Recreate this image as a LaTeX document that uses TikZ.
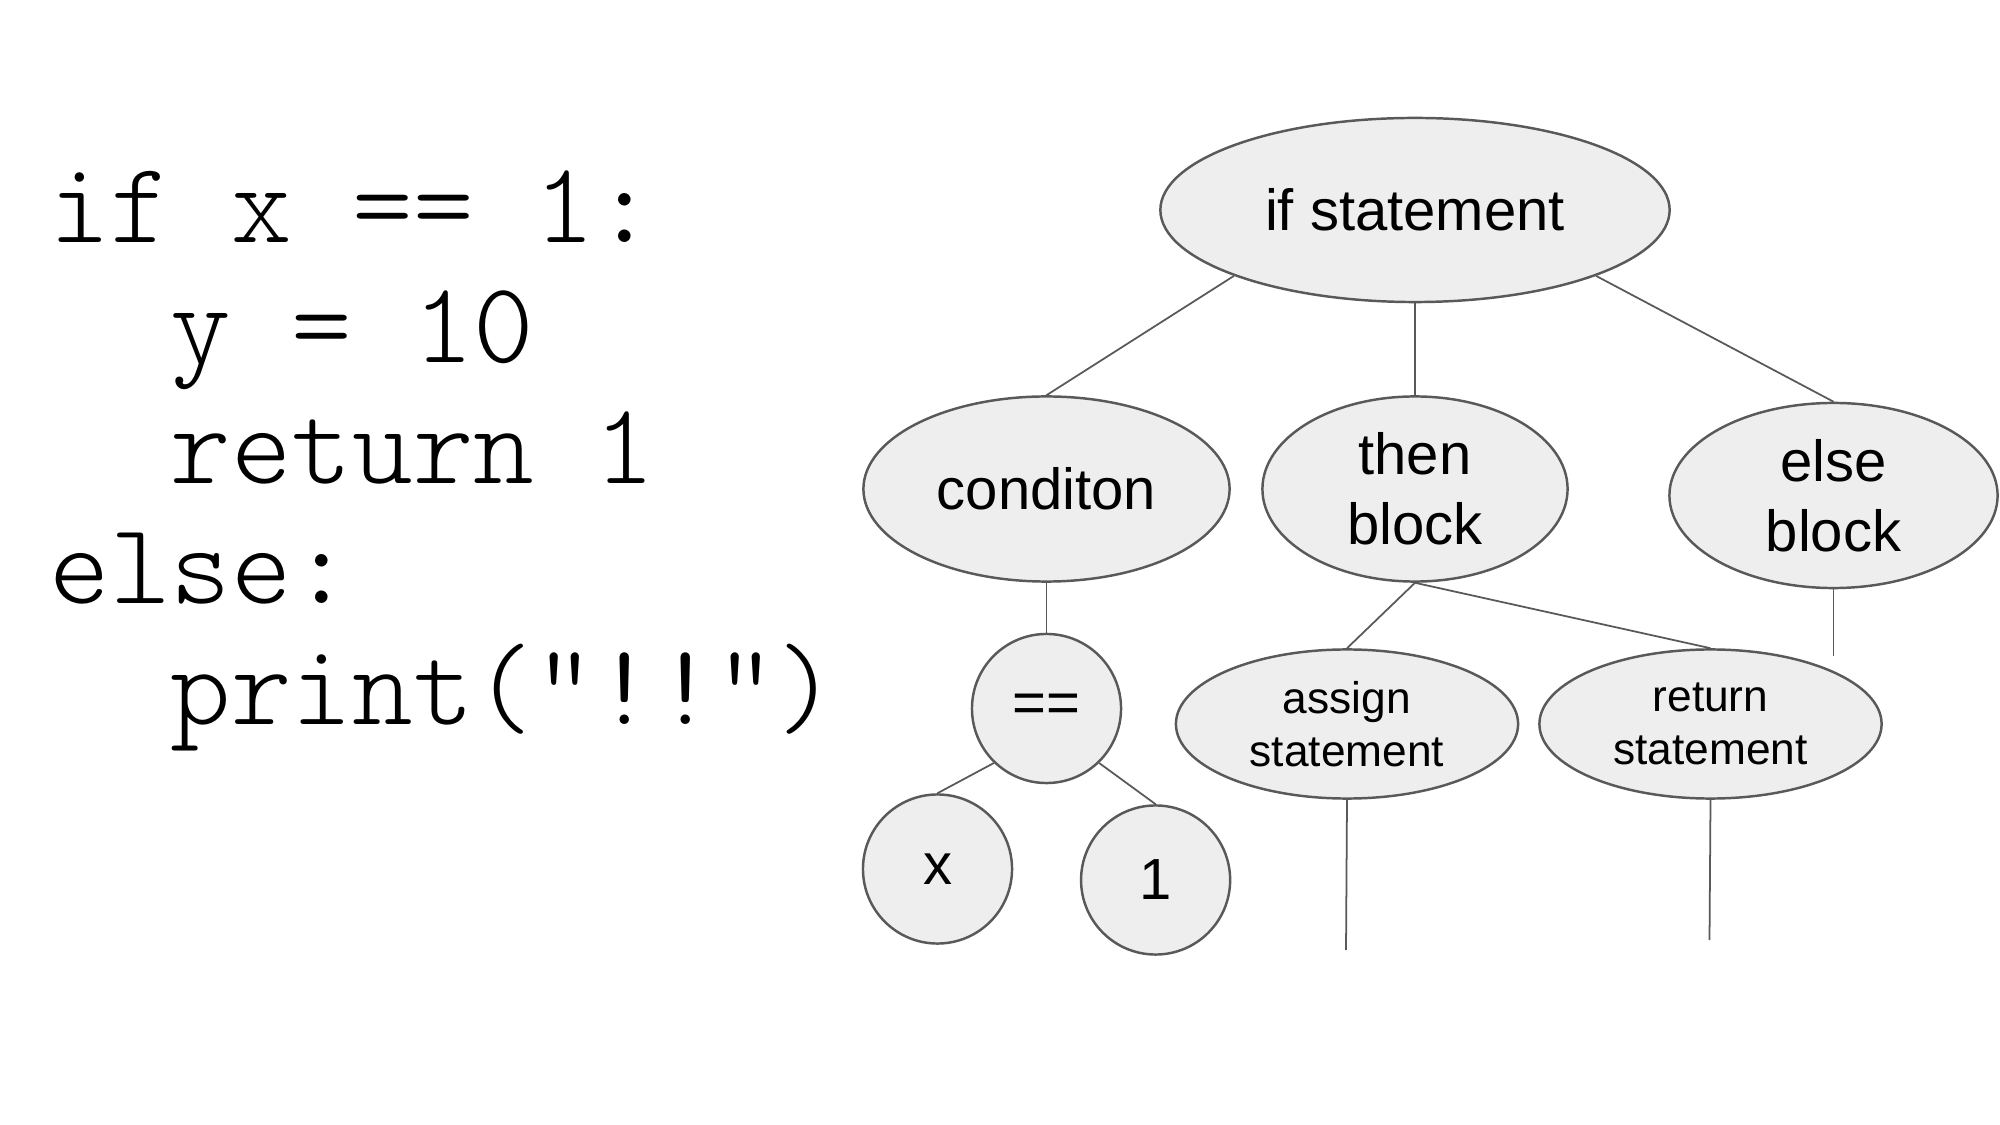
\documentclass[tikz,border=0pt]{standalone}
\usepackage{fontspec}
\setmainfont{Liberation Sans}
\newfontfamily\codefamily{lmmonolt10-regular.otf}
\usetikzlibrary{shapes.geometric}
\definecolor{nodefill}{HTML}{EEEEEE}
\definecolor{linegray}{HTML}{595959}
\newcommand{\ind}{\hspace*{1.05em}}
\begin{document}
\begin{tikzpicture}[x=0.01cm,y=-0.01cm,
  every node/.style={inner sep=0pt},
  treenode/.style={ellipse,draw=linegray,line width=0.7pt,fill=nodefill,align=center,font=\fontsize{16.5}{20}\selectfont},
  smallnode/.style={treenode,font=\fontsize{12.6}{15}\selectfont},
  leafnode/.style={circle,draw=linegray,line width=0.7pt,fill=nodefill,minimum size=1.49cm,font=\fontsize{16.5}{20}\selectfont},
  branch/.style={draw=linegray,line width=0.5pt}]
\useasboundingbox (0,0) rectangle (2000,1125);
\node[anchor=base west,align=left,font=\codefamily\fontsize{32.8}{34.3}\selectfont] (code) at (49,724.5)
  {if x == 1:\\ \ind y = 10\\ \ind return 1\\ else:\\ \ind print("!!")};
\node[treenode,minimum width=5.09cm,minimum height=1.84cm] (root) at (1415,210) {if statement};
\node[treenode,minimum width=3.66cm,minimum height=1.85cm] (cond) at (1046.5,489) {conditon};
\node[treenode,minimum width=3.05cm,minimum height=1.85cm] (then) at (1415,489) {then\\block};
\node[treenode,minimum width=3.28cm,minimum height=1.85cm] (else) at (1833.5,495.5) {else\\block};
\node[leafnode] (eq) at (1046.5,708.5) {==};
\node[leafnode] (x) at (937.5,869) {x};
\node[leafnode] (one) at (1155.6,880) {1};
\node[smallnode,minimum width=3.42cm,minimum height=1.49cm] (assign) at (1347,724) {assign\\statement};
\node[smallnode,minimum width=3.42cm,minimum height=1.49cm] (ret) at (1710.5,724) {return\\statement};
\coordinate (elseend) at (1833.5,656);
\coordinate (assignend) at (1346,950);
\coordinate (retend) at (1709.5,940);
\draw[branch] (root.200) -- (cond.north);
\draw[branch] (root.south) -- (then.north);
\draw[branch] (root.340) -- (else.north);
\draw[branch] (cond.south) -- (eq.north);
\draw[branch] (eq.226) -- (x.north);
\draw[branch] (eq.314) -- (one.north);
\draw[branch] (then.south) -- (assign.north);
\draw[branch] (then.south) -- (ret.north);
\draw[branch] (else.south) -- (elseend);
\draw[branch] (assign.south) -- (assignend);
\draw[branch] (ret.south) -- (retend);
\end{tikzpicture}
\end{document}
